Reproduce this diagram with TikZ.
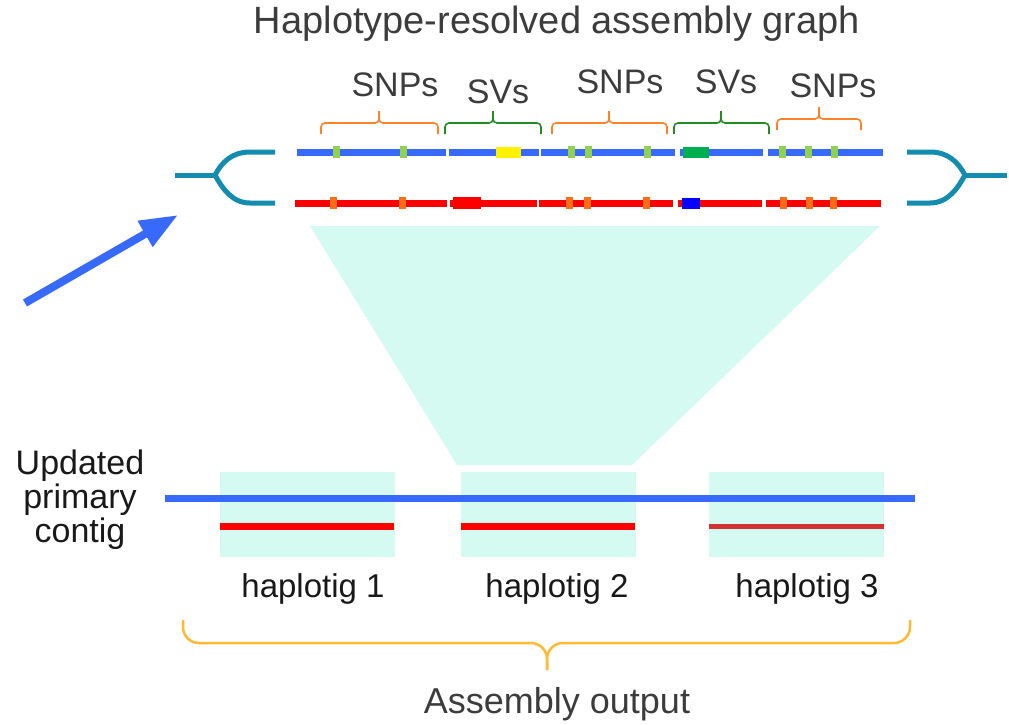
\documentclass[tikz,border=0pt]{standalone}
\usepackage{fontspec}
\setmainfont{Liberation Sans}
\usetikzlibrary{arrows.meta}

\definecolor{hapblue}{RGB}{55,105,250}
\definecolor{hapred}{RGB}{255,0,0}
\definecolor{darkred}{RGB}{210,50,50}
\definecolor{snpgreen}{RGB}{146,208,80}
\definecolor{snporange}{RGB}{255,110,20}
\definecolor{svgreen}{RGB}{0,176,80}
\definecolor{bracegreen}{RGB}{34,139,34}
\definecolor{braceorange}{RGB}{255,130,40}
\definecolor{braceyellow}{RGB}{255,185,50}
\definecolor{forkteal}{RGB}{20,140,175}
\definecolor{zoomcyan}{RGB}{212,250,242}
\definecolor{textgrey}{RGB}{60,60,60}

\begin{document}
\begin{tikzpicture}[x=1pt,y=-1pt,
	hap1/.style={hapblue,line width=7pt},
	hap2/.style={hapred,line width=7pt},
	fork/.style={forkteal,line width=5pt},
	topbrace/.style={line width=1.6pt,rounded corners=4pt},
	lbl/.style={textgrey,font=\fontsize{34}{36}\selectfont,anchor=base},
	tig/.style={black!90,font=\fontsize{33}{36}\selectfont,anchor=base}]
	\useasboundingbox (0,0) rectangle (1009,724);
	
	% zoomed region and haplotig boxes
	\fill[zoomcyan] (310,226) -- (880,226) -- (632,465) -- (457,465) -- cycle;
	\fill[zoomcyan] (220,472) rectangle (395,557);
	\fill[zoomcyan] (461,472) rectangle (636,557);
	\fill[zoomcyan] (709,472) rectangle (884,557);
	
	\node[textgrey,font=\fontsize{38}{40}\selectfont,anchor=base] (title) at (557,33) {Haplotype-resolved assembly graph};
	
	% both haplotypes, cut into pieces
	\draw[hap1] (297,152) -- (446,152);
	\draw[hap1] (449,152) -- (539,152);
	\draw[hap1] (541,152) -- (675,152);
	\draw[hap1] (680,152) -- (763,152);
	\draw[hap1] (768,152) -- (883,152);
	\draw[hap2] (295,203) -- (447,203);
	\draw[hap2] (450,203) -- (537,203);
	\draw[hap2] (539,203) -- (673,203);
	\draw[hap2] (678,203) -- (762,203);
	\draw[hap2] (766,203) -- (881,203);
	
	\foreach \x in {336,403,571,588,647,782,808,834}
		\fill[snpgreen] (\x-3.5,146) rectangle (\x+3.5,158);
	\foreach \x in {333,402,569,587,646,783,809,833}
		\fill[snporange] (\x-3.5,197) rectangle (\x+3.5,209);
	\fill[yellow] (496,147) rectangle (521,158);
	\fill[svgreen] (683,147) rectangle (709,158);
	\fill[hapred] (453,197) rectangle (481,209);
	\fill[blue] (682,198) rectangle (700,209);
	
	% braces and labels
	\foreach \xa/\xm/\xb/\ya/\c in {321/379/438/134/braceorange, 445/493/541/134/bracegreen,
		552/609/667/134/braceorange, 674/721/769/134/bracegreen, 777/819/861/130/braceorange} {
		\draw[topbrace,\c] (\xa,\ya) -- (\xa,\ya-11) -- (\xm,\ya-11) -- (\xm,\ya-23);
		\draw[topbrace,\c] (\xb,\ya) -- (\xb,\ya-11) -- (\xm,\ya-11) -- (\xm,\ya-23);
	}
	\node[lbl] (snp1) at (395,96) {SNPs};
	\node[lbl] (sv1) at (498,103) {SVs};
	\node[lbl] (snp2) at (620,93) {SNPs};
	\node[lbl] (sv2) at (726,93) {SVs};
	\node[lbl] (snp3) at (833,97) {SNPs};
	
	% bubble ends
	\draw[fork] (175,175) -- (215,175);
	\draw[fork] (215,175) .. controls (222,162) and (232,152) .. (250,152) -- (275,152);
	\draw[fork] (215,175) .. controls (222,188) and (232,203) .. (250,203) -- (275,203);
	\draw[fork] (1007,175) -- (965,175);
	\draw[fork] (965,175) .. controls (958,162) and (948,152) .. (930,152) -- (907,152);
	\draw[fork] (965,175) .. controls (958,188) and (948,203) .. (930,203) -- (907,203);
	
	\draw[hapblue,line width=8pt,-{Triangle[length=38pt,width=28pt]}] (25,303) -- (178,215);
	
	% output contigs
	\draw[hap1] (165,498) -- (915,498);
	\draw[hap2] (220,526) -- (394,526);
	\draw[hap2] (461,526) -- (635,526);
	\draw[darkred,line width=5pt] (709,526) -- (884,526);
	
	\node[black!90,font=\fontsize{34}{34}\selectfont,align=center,inner sep=0] (primary) at (80,500) {Updated\\primary\\contig};
	\node[tig] (tig1) at (313,597) {haplotig 1};
	\node[tig] (tig2) at (557,597) {haplotig 2};
	\node[tig] (tig3) at (807,597) {haplotig 3};
	
	\draw[braceyellow,line width=2.5pt,rounded corners=16pt] (183,620) -- (183,643) -- (547,643) -- (547,670);
	\draw[braceyellow,line width=2.5pt,rounded corners=16pt] (910,620) -- (910,643) -- (547,643) -- (547,670);
	\node[textgrey,font=\fontsize{36}{38}\selectfont,anchor=base] (output) at (557,713) {Assembly output};
\end{tikzpicture}
\end{document}
